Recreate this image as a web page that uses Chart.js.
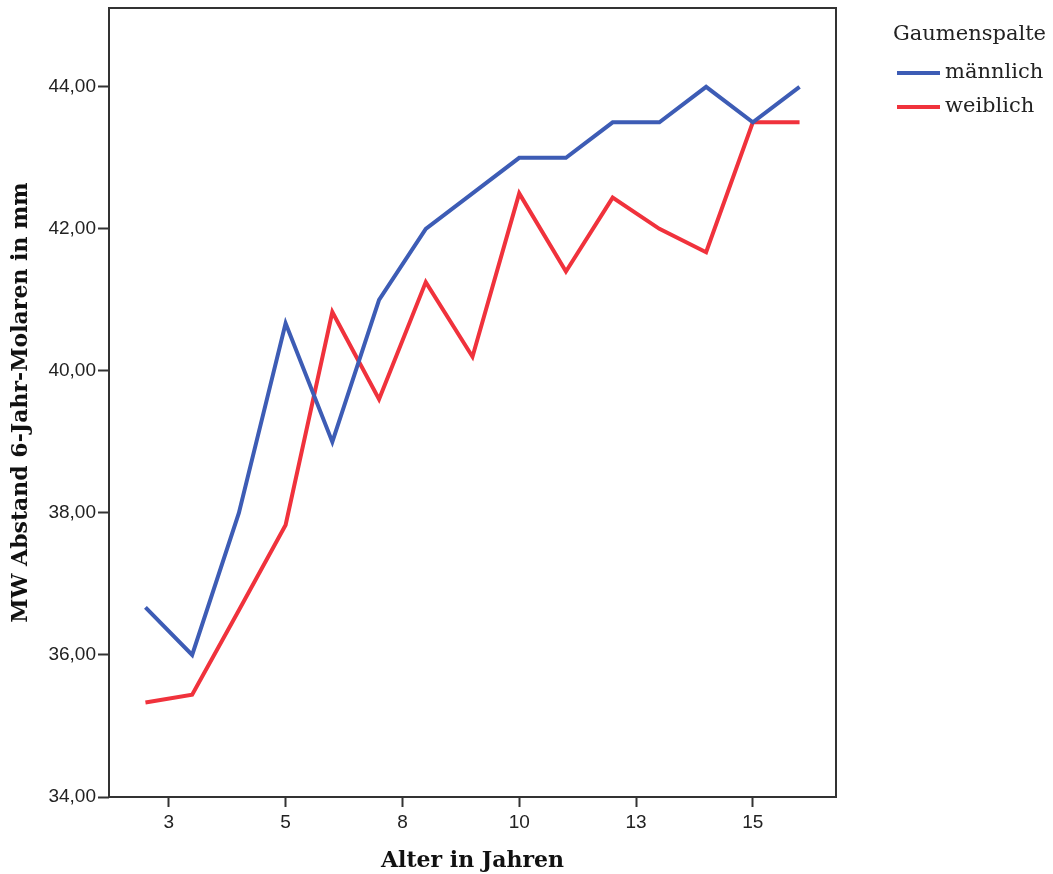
<!DOCTYPE html>
<html lang="de">
<head>
    <meta charset="UTF-8">
    <title>Abstand 6-Jahr-Molaren</title>
    <script src="https://cdn.jsdelivr.net/npm/chart.js"></script>
    <style>
        body { margin: 0; background: #fff; }
        #wrap { width: 1053px; height: 874px; position: relative; }
    </style>
</head>
<body>
    <div id="wrap"><canvas id="grafico"></canvas></div>

    <script>
        // Daten
        const alter = [2, 3, 4, 5, 6, 7, 8, 9, 10, 11, 12, 13, 14, 15, 16];
        const maennlich = [36.67, 36.0, 38.0, 40.67, 39.0, 41.0, 42.0, 42.5, 43.0, 43.0, 43.5, 43.5, 44.0, 43.5, 44.0];
        const weiblich = [35.33, 35.44, 36.63, 37.83, 40.83, 39.6, 41.25, 40.2, 42.5, 41.4, 42.44, 42.0, 41.67, 43.5, 43.5];
        const xTicks = [2.5, 5, 7.5, 10, 12.5, 15];
        const xTickLabels = ['3', '5', '8', '10', '13', '15'];
        const yTicks = [34, 36, 38, 40, 42, 44];

        const serif = "'DejaVu Serif', serif";
        const sans = "'Liberation Sans', Arial, sans-serif";

        // Rahmen um die Zeichenfläche
        const rahmen = {
            id: 'rahmen',
            afterDatasetsDraw(chart) {
                const a = chart.chartArea, c = chart.ctx;
                c.save();
                c.strokeStyle = '#333';
                c.lineWidth = 2;
                c.strokeRect(a.left, a.top, a.right - a.left, a.bottom - a.top);
                c.restore();
            }
        };

        // Legende rechts
        const legende = {
            id: 'legende',
            afterDraw(chart) {
                const c = chart.ctx;
                c.save();
                c.fillStyle = '#222';
                c.textBaseline = 'middle';
                c.font = '21px ' + serif;
                c.fillText('Gaumenspalte', 893, 35);
                chart.data.datasets.forEach((ds, i) => {
                    const y = 73 + i * 34;
                    c.strokeStyle = ds.borderColor;
                    c.lineWidth = 4;
                    c.beginPath();
                    c.moveTo(897, y);
                    c.lineTo(940, y);
                    c.stroke();
                    c.fillText(ds.label, 945, y);
                });
                c.restore();
            }
        };

        const ctx = document.getElementById('grafico').getContext('2d');

        new Chart(ctx, {
            type: 'line',
            data: {
                datasets: [{
                    label: 'männlich',
                    data: alter.map((x, i) => ({ x: x, y: maennlich[i] })),
                    borderColor: '#3d5cb5',
                    borderWidth: 4,
                    pointRadius: 0,
                    tension: 0,
                    fill: false
                }, {
                    label: 'weiblich',
                    data: alter.map((x, i) => ({ x: x, y: weiblich[i] })),
                    borderColor: '#f0323c',
                    borderWidth: 4,
                    pointRadius: 0,
                    tension: 0,
                    fill: false
                }]
            },
            options: {
                responsive: true,
                maintainAspectRatio: false,
                animation: false,
                layout: { padding: { top: 8, right: 217, left: 0, bottom: 0 } },
                plugins: {
                    legend: { display: false },
                    tooltip: { enabled: false }
                },
                scales: {
                    x: {
                        type: 'linear',
                        min: 1.22,
                        max: 16.78,
                        afterBuildTicks: s => { s.ticks = xTicks.map(v => ({ value: v })); },
                        afterFit: s => { s.height = 77; s.paddingLeft = 0; s.paddingRight = 0; },
                        border: { display: false },
                        grid: { drawOnChartArea: false, tickLength: 10, tickColor: '#333', tickWidth: 2 },
                        ticks: {
                            color: '#222',
                            font: { family: sans, size: 19 },
                            padding: 4,
                            maxRotation: 0,
                            callback: (v, i) => xTickLabels[i]
                        },
                        title: {
                            display: true,
                            text: 'Alter in Jahren',
                            color: '#111',
                            font: { family: serif, size: 22, weight: 'bold' },
                            padding: 0
                        }
                    },
                    y: {
                        min: 34,
                        max: 45.11,
                        afterBuildTicks: s => { s.ticks = yTicks.map(v => ({ value: v })); },
                        afterFit: s => { s.width = 109; s.paddingTop = 0; s.paddingBottom = 0; },
                        border: { display: false },
                        grid: { drawOnChartArea: false, tickLength: 11, tickColor: '#333', tickWidth: 2 },
                        ticks: {
                            color: '#222',
                            font: { family: sans, size: 19 },
                            padding: 2,
                            callback: v => v.toFixed(2).replace('.', ',')
                        },
                        title: {
                            display: true,
                            text: 'MW Abstand 6-Jahr-Molaren in mm',
                            color: '#111',
                            font: { family: serif, size: 22, weight: 'bold' },
                            padding: 8
                        }
                    }
                }
            },
            plugins: [rahmen, legende]
        });
    </script>
</body>
</html>
